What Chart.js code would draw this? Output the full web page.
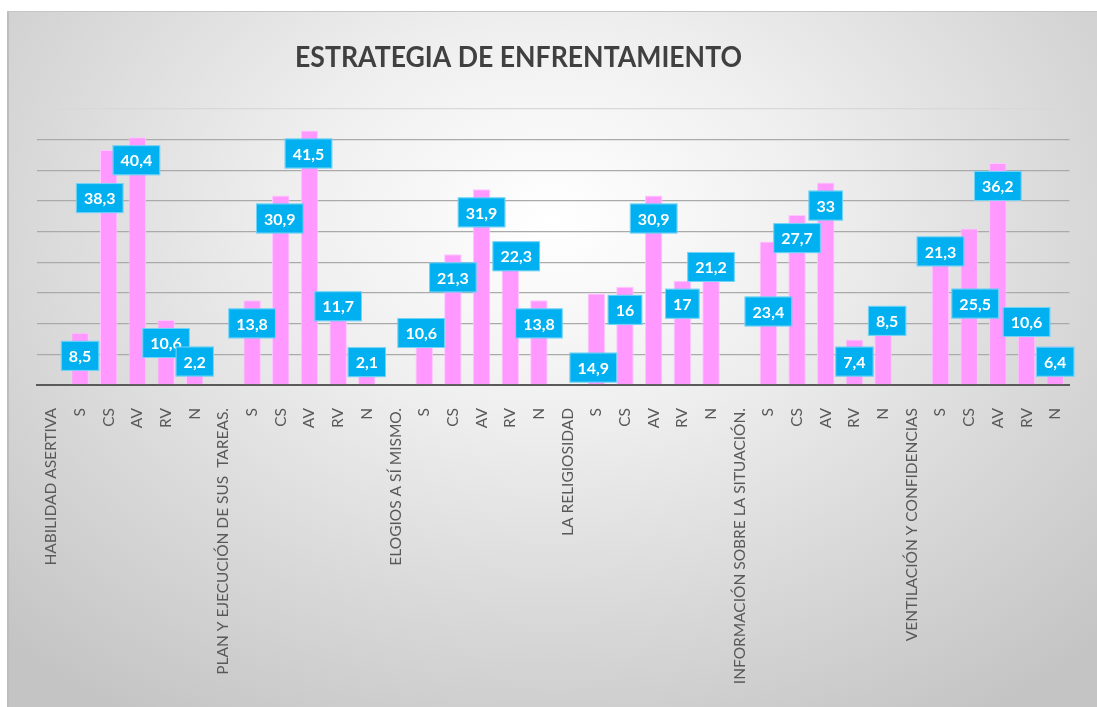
<!DOCTYPE html>
<html lang="es">
<head>
  <meta charset="UTF-8" />
  <title>Estrategia de enfrentamiento</title>
  <script src="https://cdnjs.cloudflare.com/ajax/libs/Chart.js/4.4.1/chart.umd.min.js"></script>
  <style>
    *{margin:0;padding:0;box-sizing:border-box}
    body{background:#fff;width:1097px;height:707px;overflow:hidden}
    .frame{position:absolute;left:7px;top:11px;width:1090px;height:696px;
      border-left:2px solid #bdbdbd;border-top:1px solid #c6c6c6;
      background:radial-gradient(ellipse 72% 85% at 50% 30%,#ffffff 0%,#efefef 33%,#d8d8d8 68%,#c4c4c4 100%)}
    .plot{position:absolute;left:0;top:0;width:1088px;height:695px}
  </style>
</head>
<body>
  <div class="frame">
    <div class="plot"><canvas id="chart"></canvas></div>
  </div>

  <script>
    // Data (headers carry no bar)
    const categories = [
      'HABILIDAD ASERTIVA', 'S', 'CS', 'AV', 'RV', 'N',
      'PLAN Y EJECUCIÓN DE SUS  TAREAS.', 'S', 'CS', 'AV', 'RV', 'N',
      'ELOGIOS A SÍ MISMO.', 'S', 'CS', 'AV', 'RV', 'N',
      'LA RELIGIOSIDAD', 'S', 'CS', 'AV', 'RV', 'N',
      'INFORMACIÓN SOBRE LA SITUACIÓN.', 'S', 'CS', 'AV', 'RV', 'N',
      'VENTILACIÓN Y CONFIDENCIAS', 'S', 'CS', 'AV', 'RV', 'N'
    ];
    const values = [
      null, 8.5, 38.3, 40.4, 10.6, 2.2,
      null, 13.8, 30.9, 41.5, 11.7, 2.1,
      null, 10.6, 21.3, 31.9, 22.3, 13.8,
      null, 14.9, 16, 30.9, 17, 21.2,
      null, 23.4, 27.7, 33, 7.4, 8.5,
      null, 21.3, 25.5, 36.2, 10.6, 6.4
    ];
    const yTicks = [0, 5, 10, 15, 20, 25, 30, 35, 40, 45];

    // callout nudges (px from the bar top), like the hand-placed Excel labels
    const calloutShift = [
      null, [0,23], [-9,48], [-1,23], [0,23], [0,-10],
      null, [0,23], [-1,23], [-1,23], [0,-7], [0,-10],
      null, [-3,13], [0,23], [0,23], [6,8], [0,23],
      null, [-3,74], [0,23], [0,23], [0,23], [0,12],
      null, [0,70], [0,23], [0,23], [0,22], [4,-12],
      null, [0,-3], [6,75], [0,23], [0,2], [0,16]
    ];

    const titlePlugin = {
      id: 'titleText',
      afterDraw(chart) {
        const ctx = chart.ctx;
        const text = 'ESTRATEGIA DE ENFRENTAMIENTO';
        ctx.save();
        ctx.font = 'bold 28px Lato';
        ctx.fillStyle = '#404040';
        ctx.textBaseline = 'alphabetic';
        ctx.textAlign = 'center';
        const w = ctx.measureText(text).width;
        ctx.translate(509.5, 55);
        ctx.scale(447 / w, 1);
        ctx.fillText(text, 0, 0);
        ctx.restore();
      }
    };

    const calloutPlugin = {
      id: 'callouts',
      afterDatasetsDraw(chart) {
        const ctx = chart.ctx;
        const meta = chart.getDatasetMeta(0);
        ctx.save();
        ctx.font = 'bold 16px Lato';
        ctx.textAlign = 'center';
        ctx.textBaseline = 'middle';
        meta.data.forEach((bar, i) => {
          const v = values[i];
          if (v === null) return;
          const label = String(v).replace('.', ',');
          const [dx, dy] = calloutShift[i] || [0, 23];
          const cx = bar.x + dx, cy = bar.y + dy;
          const w = ctx.measureText(label).width + 16, h = 30;
          ctx.fillStyle = '#00b0f0';
          ctx.fillRect(cx - w / 2, cy - h / 2, w, h);
          ctx.strokeStyle = 'rgba(255,255,255,0.45)';
          ctx.lineWidth = 1;
          ctx.strokeRect(cx - w / 2 + 0.5, cy - h / 2 + 0.5, w - 1, h - 1);
          ctx.fillStyle = '#ffffff';
          ctx.fillText(label, cx, cy + 1);
        });
        ctx.restore();
      }
    };

    new Chart(document.getElementById('chart').getContext('2d'), {
      type: 'bar',
      data: {
        labels: categories,
        datasets: [{
          data: values,
          backgroundColor: '#ff99ff',
          borderColor: '#ffc6ff',
          borderWidth: 1,
          categoryPercentage: 1,
          barPercentage: 0.61
        }]
      },
      options: {
        responsive: true,
        maintainAspectRatio: false,
        animation: false,
        layout: { padding: { left: 28, right: 15, top: 97, bottom: 0 } },
        plugins: { legend: { display: false }, tooltip: { enabled: false } },
        scales: {
          x: {
            grid: { display: false, drawTicks: false },
            border: { display: true, color: '#5a5a5a', width: 2 },
            ticks: {
              autoSkip: false, maxRotation: 90, minRotation: 90, padding: 23,
              color: '#595959', font: { family: 'Lato', size: 15.5 }
            },
            afterFit(scale) { scale.height = 322; }
          },
          y: {
            min: 0, max: 45,
            afterBuildTicks(scale) { scale.ticks = yTicks.map(v => ({ value: v })); },
            grid: {
              drawTicks: false,
              lineWidth: 1.3,
              color: ctx => ctx.tick.value === 0 ? 'rgba(0,0,0,0)' :
                (ctx.tick.value === 45 ? '#d8d8d8' : '#aaaaaa')
            },
            border: { display: false },
            ticks: { display: false }
          }
        }
      },
      plugins: [titlePlugin, calloutPlugin]
    });
  </script>
</body>
</html>
